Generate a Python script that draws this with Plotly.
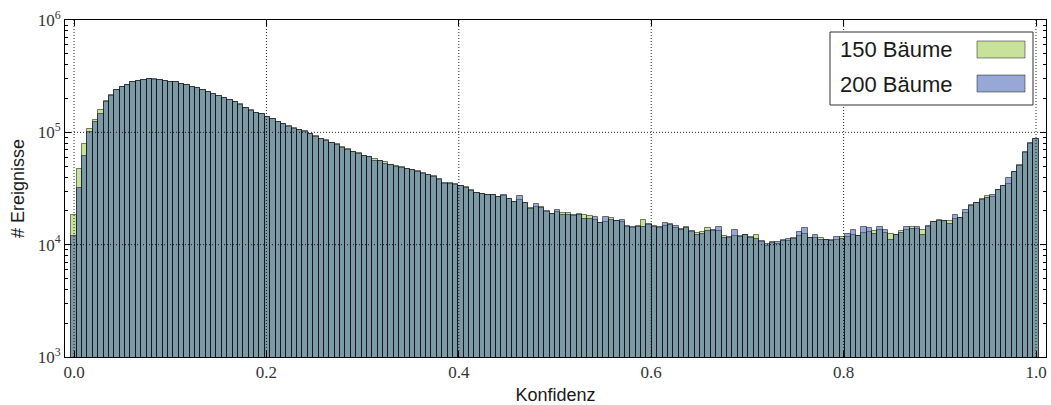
import numpy as np
import plotly.graph_objects as go

# Histogram of classifier confidence, 180 bins centred on 0 ... 1
n_bins = 180
bin_centers = np.linspace(0.0, 1.0, n_bins)
bin_width = 1.0 / (n_bins - 1)

# Counts per bin, in thousands of events
counts_150_k = [
    18.4, 47, 78, 108, 130, 158, 190, 215, 238, 255,
    264, 278, 285, 291, 296, 295, 291, 287, 283, 278,
    271, 262, 255, 246, 237, 228, 219, 211, 203, 194,
    186, 177, 166, 157, 150, 146, 137, 131, 124, 119,
    112, 109, 104, 101, 96, 92, 88, 85, 81, 78,
    74, 71, 67, 65, 62, 60, 58, 56, 54, 51,
    50, 49, 47.5, 46, 45, 43, 42, 40.5, 38, 35,
    35.5, 34, 33.5, 32.4, 30.5, 28.6, 28.3, 27.7, 27.9, 26.7,
    27.2, 25.3, 24.2, 25, 23.3, 21, 21.5, 21.5, 19.6, 18.6,
    19.5, 19.2, 19, 18, 18.7, 18.4, 18, 16.5, 15.5, 16,
    17.1, 16.2, 15.8, 14.4, 14.1, 14.6, 16.6, 15, 14.6, 14.2,
    14.6, 15.2, 14, 13.7, 14.4, 13, 12.6, 13, 14, 13.3,
    13.2, 11.9, 11.4, 12, 11.9, 12.1, 11.6, 12.1, 10.5, 9.8,
    10.6, 10.2, 11, 10.8, 11.5, 12, 12.5, 11.4, 11.5, 11.4,
    11, 11, 11, 11.6, 11.6, 12.2, 11.9, 12.8, 13, 13.2,
    13.5, 12.8, 12.4, 12.2, 13.2, 13.5, 14.4, 13.9, 13.5, 14.5,
    16, 16.6, 16.2, 16.2, 17, 17.1, 19, 22.5, 23.3, 25.3,
    27.1, 26.8, 30.6, 33.2, 35, 44.7, 51, 66, 79, 88,
]
counts_200_k = [
    11.9, 32, 62, 100, 124, 146, 185, 212, 236, 253,
    266, 281, 288, 293, 297, 296, 292, 286, 282, 279,
    270, 263, 254, 247, 236, 229, 218, 212, 202, 195,
    185, 176, 165, 156, 148, 147, 136, 132, 123, 118,
    113, 108, 104, 102, 97, 91, 88, 84, 81, 77,
    73, 70, 67, 64, 62, 60, 56, 56, 52, 51,
    49, 48, 47, 46.5, 44.5, 43.5, 41.5, 40, 38.5, 35.5,
    35, 34.5, 33, 32, 30, 29, 28, 27.9, 27.5, 26.5,
    27.7, 25.5, 24, 27, 23.5, 20.6, 23, 21.2, 19.8, 18.8,
    20.3, 18.5, 18.2, 18.2, 18.5, 17, 16.8, 17.5, 15.7, 17.5,
    16.5, 16.3, 16.6, 14.6, 14.3, 14.4, 14.5, 15.2, 14.4, 14.3,
    15.5, 15, 14.6, 13.6, 14.2, 13.1, 12.2, 12.5, 13.2, 13.4,
    14.4, 11.5, 11.6, 13.5, 11.8, 12.3, 11.5, 11.3, 10.8, 10.1,
    10.4, 10.5, 10.7, 11.2, 11.3, 13, 14, 11.5, 12.2, 11,
    11.1, 10.7, 11.7, 11.2, 12.4, 13.5, 12, 14.4, 14.2, 12.5,
    14.3, 13.5, 11, 12.3, 12.6, 14.3, 13.8, 14.4, 12.3, 14.6,
    15.8, 16.4, 16.3, 15.2, 18.4, 17.3, 20.3, 22, 23.5, 25,
    26, 27.7, 30.4, 33, 39, 44.5, 50, 67, 80, 88,
]
counts_150 = np.array(counts_150_k) * 1000
counts_200 = np.array(counts_200_k) * 1000

series_names = ["150 Bäume", "200 Bäume"]
fill_colors = ["rgba(145,195,55,0.5)", "rgba(49,81,173,0.5)"]
swatch_colors = ["rgb(200,225,155)", "rgb(152,168,214)"]
edge_color = "rgba(0,0,0,0.5)"

x_ticks = [0.0, 0.2, 0.4, 0.6, 0.8, 1.0]
x_ticktext = ["0.0", "0.2", "0.4", "0.6", "0.8", "1.0"]
y_ticks = [1e3, 1e4, 1e5, 1e6]
y_ticktext = ["10<sup>3</sup>", "10<sup>4</sup>", "10<sup>5</sup>", "10<sup>6</sup>"]
y_minor = [m * 10 ** e for e in range(3, 6) for m in range(2, 10)]

W, H = 1051, 405
ML, MR, MT, MB = 65, 5, 20, 48
PW, PH = W - ML - MR, H - MT - MB

def px_x(px):
    return (px - ML) / PW

def px_y(py):
    return (H - MB - py) / PH

fig = go.Figure()
for counts, name, color in zip([counts_150, counts_200], series_names, fill_colors):
    fig.add_trace(go.Bar(
        x=bin_centers, y=counts, width=bin_width, name=name,
        marker=dict(color=color, line=dict(color=edge_color, width=1)),
        showlegend=False,
    ))

grid_line = dict(color="rgba(0,0,0,0.85)", width=1, dash="1px,2px")
shapes = []
# dotted grid drawn over the bars
for xv in x_ticks:
    shapes.append(dict(type="line", xref="x", yref="y domain", x0=xv, x1=xv, y0=0, y1=1,
                       line=grid_line, layer="above"))
for i in range(1, 3):
    shapes.append(dict(type="line", xref="x domain", yref="y domain", x0=0, x1=1,
                       y0=i / 3, y1=i / 3, line=grid_line, layer="above"))

# legend box with swatches on the right
shapes.append(dict(type="rect", xref="paper", yref="paper",
                   x0=px_x(830), x1=px_x(1033), y0=px_y(105), y1=px_y(32),
                   fillcolor="white", line=dict(color="#333333", width=1), layer="above"))
annotations = []
for i, (name, sc) in enumerate(zip(series_names, swatch_colors)):
    top = 41 + i * 34
    shapes.append(dict(type="rect", xref="paper", yref="paper",
                       x0=px_x(977), x1=px_x(1025), y0=px_y(top + 17), y1=px_y(top),
                       fillcolor=sc, line=dict(color="rgba(0,0,0,0.45)", width=1),
                       layer="above"))
    annotations.append(dict(xref="paper", yref="paper", x=px_x(838), y=px_y(top + 9),
                            text=name, showarrow=False, xanchor="left", yanchor="middle",
                            font=dict(family="Liberation Sans", size=22, color="#1a1a1a")))

axis_common = dict(
    showline=True, linecolor="black", linewidth=1, mirror="allticks",
    ticks="inside", tickcolor="black", tickwidth=1, ticklen=6,
    showgrid=False, zeroline=False,
    tickfont=dict(family="Liberation Serif", size=17, color="#333333"),
    title_font=dict(family="Liberation Sans", size=18, color="#1a1a1a"),
)

fig.update_layout(
    width=W, height=H,
    margin=dict(l=ML, r=MR, t=MT, b=MB, pad=0),
    paper_bgcolor="white", plot_bgcolor="white",
    barmode="overlay", bargap=0,
    shapes=shapes, annotations=annotations,
    xaxis=dict(axis_common, range=[-0.0094, 1.0104], tickvals=x_ticks, ticktext=x_ticktext,
               title=dict(text="Konfidenz", standoff=6)),
    yaxis=dict(axis_common, type="log", range=[3, 6], tickvals=y_ticks, ticktext=y_ticktext,
               minor=dict(ticks="inside", tickvals=y_minor, ticklen=3, tickcolor="black",
                          showgrid=False),
               title=dict(text="# Ereignisse", standoff=8)),
)

fig.write_html("out.html")
